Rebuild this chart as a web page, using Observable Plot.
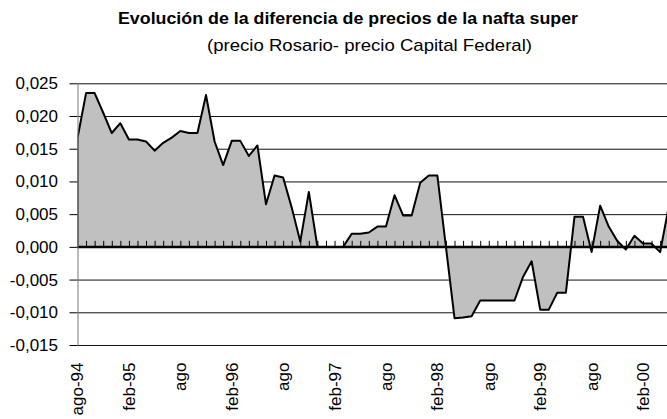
<!DOCTYPE html>
<html><head><meta charset="utf-8">
<script src="https://cdn.jsdelivr.net/npm/d3@7"></script>
<script src="https://cdn.jsdelivr.net/npm/@observablehq/plot@0.6"></script>
<style>
body{margin:0;background:#fff;}
#wrap{position:relative;width:667px;height:419px;overflow:hidden;background:#fff;}
#head{display:block;}
#chart svg{display:block;}
</style></head><body>
<div id="wrap">
<svg id="head" width="667" height="60">
  <text id="title" x="348" y="24" text-anchor="middle" font-weight="bold" font-size="17" font-family="'Liberation Sans Narrow','Arial Narrow','Liberation Sans',Arial,sans-serif" textLength="460" lengthAdjust="spacingAndGlyphs" fill="#000"></text>
  <text id="sub" x="369.5" y="50.5" text-anchor="middle" font-size="17" font-family="'Liberation Sans Narrow','Arial Narrow','Liberation Sans',Arial,sans-serif" textLength="325" lengthAdjust="spacingAndGlyphs" fill="#000"></text>
</svg>
<div id="chart"></div>
</div>
<script>
const titleText = "Evolución de la diferencia de precios de la nafta super";
const subtitleText = "(precio Rosario- precio Capital Federal)";

// monthly values, ago-94 onward
const values = [
  0.0166, 0.0235, 0.0235, 0.0205, 0.0174, 0.0189, 0.0164, 0.0164, 0.0161, 0.0147,
  0.0159, 0.0167, 0.0177, 0.0174, 0.0174, 0.0232, 0.0161, 0.0125, 0.0162, 0.0162,
  0.0139, 0.0155, 0.0065, 0.0109, 0.0106, 0.0060, 0.0008, 0.0084, 0.0000, 0.0000,
  0.0000, 0.0000, 0.0020, 0.0020, 0.0022, 0.0031, 0.0031, 0.0079, 0.0048, 0.0048,
  0.0098, 0.0109, 0.0109, 0.0000, -0.0109, -0.0108, -0.0106, -0.0082, -0.0082, -0.0082,
  -0.0082, -0.0082, -0.0046, -0.0022, -0.0096, -0.0096, -0.0070, -0.0070, 0.0046, 0.0046,
  -0.0008, 0.0063, 0.0031, 0.0009, -0.0004, 0.0017, 0.0005, 0.0005, -0.0008, 0.0061
];
const xTickLabels = ["ago-94","feb-95","ago","feb-96","ago","feb-97","ago","feb-98","ago","feb-99","ago","feb-00"];
const xTickStep = 6;
const yTicks = [-0.015, -0.010, -0.005, 0.000, 0.005, 0.010, 0.015, 0.020, 0.025];

document.getElementById("title").textContent = titleText;
document.getElementById("sub").textContent = subtitleText;

const data = values.map((v, i) => ({i, v}));
const xTickPos = xTickLabels.map((_, k) => k * xTickStep);
const fmt = (v) => (v < -1e-9 ? "-" : "") + Math.abs(v).toFixed(3).replace(".", ",");

const chart = Plot.plot({
  width: 667,
  height: 359,
  marginLeft: 77.5,
  marginRight: 0,
  marginTop: 23.3,
  marginBottom: 74,
  style: {fontFamily: "'Liberation Sans', Arial, sans-serif", fontSize: "17px", color: "#000", background: "#fff", overflow: "visible"},
  x: {domain: [0, 68.8], ticks: xTickPos, tickFormat: (d) => xTickLabels[Math.round(d / xTickStep)], tickRotate: -90, tickSize: 0, tickPadding: 17, label: null},
  y: {domain: [-0.015, 0.025], ticks: yTicks, tickFormat: fmt, tickSize: 8, tickPadding: 12, label: null},
  marks: [
    Plot.ruleY(yTicks, {stroke: "#111", strokeWidth: 1}),
    Plot.areaY(data, {x: "i", y: "v", fill: "#c0c0c0", stroke: "#000", strokeWidth: 2, clip: true}),
    Plot.ruleY([0], {stroke: "#000", strokeWidth: 2}),
    Plot.ruleX(data.slice(1), {x: "i", y1: 0, y2: 0.00092, stroke: "#000", strokeWidth: 1, clip: true}),
    Plot.ruleX([0], {stroke: "#777", strokeWidth: 1})
  ]
});
document.getElementById("chart").appendChild(chart);
</script>
</body></html>
